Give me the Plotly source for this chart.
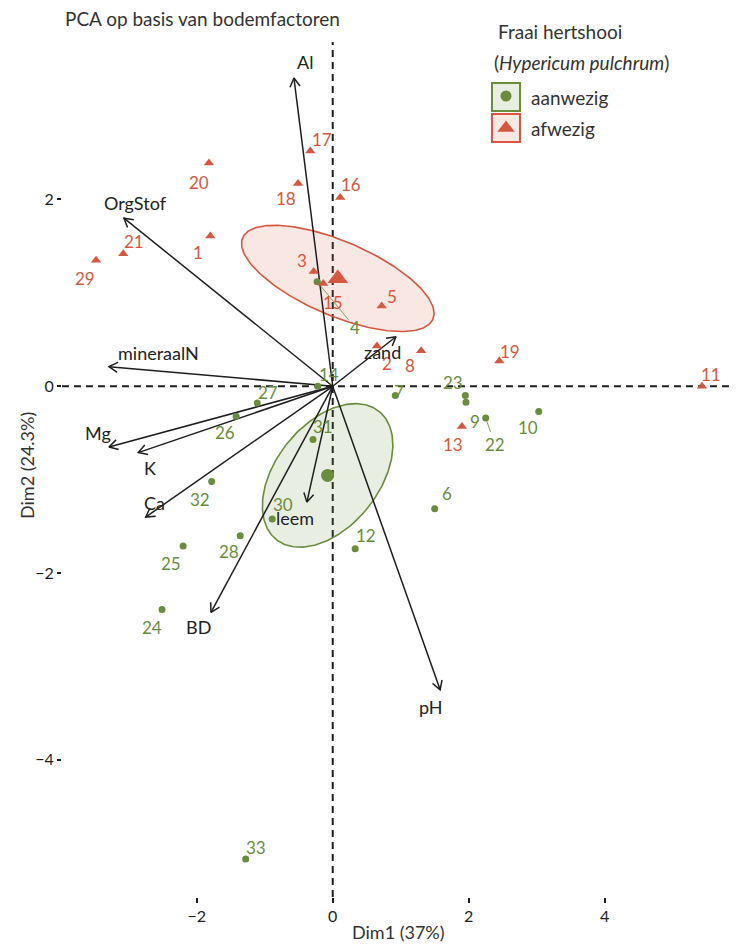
import numpy as np
import plotly.graph_objects as go

# ---------------- data ----------------
# individuals, group "afwezig" (absent)
ids_af = ["17", "20", "18", "16", "1", "21", "29", "3", "15", "5", "2", "8", "19", "11", "13"]
x_af = [-0.33, -1.82, -0.51, 0.11, -1.80, -3.08, -3.48, -0.28, -0.14, 0.72, 0.65, 1.30, 2.45, 5.43, 1.90]
y_af = [2.52, 2.39, 2.17, 2.02, 1.61, 1.42, 1.35, 1.23, 1.10, 0.86, 0.43, 0.38, 0.27, 0.00, -0.43]

# individuals, group "aanwezig" (present)
ids_aan = ["4", "6", "7", "9", "10", "12", "14", "22", "23", "24", "25", "26", "27", "28", "30", "31", "32", "33"]
x_aan = [-0.23, 1.50, 0.92, 1.96, 3.03, 0.33, -0.22, 2.25, 1.95, -2.51, -2.20, -1.42, -1.11, -1.36, -0.89, -0.29, -1.78, -1.28]
y_aan = [1.12, -1.31, -0.10, -0.17, -0.27, -1.74, 0.00, -0.34, -0.10, -2.39, -1.71, -0.32, -0.18, -1.60, -1.42, -0.57, -1.02, -5.06]

# variable loadings (arrows)
variables = ["Al", "OrgStof", "mineraalN", "Mg", "K", "Ca", "BD", "leem", "pH", "zand"]
var_x = [-0.57, -3.07, -3.29, -3.29, -2.86, -2.75, -1.79, -0.38, 1.58, 0.93]
var_y = [3.30, 1.80, 0.21, -0.65, -0.71, -1.40, -2.42, -1.24, -3.25, 0.53]

x_ticks = [-2, 0, 2, 4]
y_ticks = [-4, -2, 0, 2]

# ---------------- layout constants / styles ----------------
OFF = 8                      # page body margin
W, H = 737, 936              # figure size
PL, PR, PT, PB = 62, 734, 42, 897   # panel edges in page pixels
ML, MR, MT, MB = PL - OFF, OFF + W - PR, PT - OFF, OFF + H - PB
XR = [-3.981, 5.901]
YR = [-5.468, 3.686]
SX = (PR - PL) / (XR[1] - XR[0])   # px per unit
SY = (PB - PT) / (YR[1] - YR[0])

RED = "#d5573f"
GREEN = "#6a8c3f"
RED_FILL = "rgba(213,87,63,0.14)"
GREEN_FILL = "rgba(106,140,63,0.15)"
INK = "#1e1e1e"
TXT = "#333333"
FONT = "Lato"


def px2paper(px, py):
    return (px - PL) / (PR - PL), (PB - py) / (PB - PT)


# label offsets in pixels (dx right, dy down)
off_af = {"17": (12, -11), "20": (-10, 19), "18": (-12, 15), "16": (11, -13), "1": (-12, 17),
          "21": (11, -12), "29": (-11, 18), "3": (-12, -11), "15": (10, 19), "5": (10, -9),
          "2": (10, 17), "8": (-11, 15), "19": (11, -10), "11": (9, -12), "13": (-9, 18)}
off_aan = {"4": (38, 46), "6": (12, -15), "7": (4, -4), "9": (9, 19), "10": (-11, 16),
           "12": (11, -13), "14": (11, -12), "22": (9, 26), "23": (-12, -13), "24": (-10, 18),
           "25": (-12, 17), "26": (-11, 16), "27": (11, -11), "28": (-11, 16), "30": (11, -14),
           "31": (10, -13), "32": (-12, 18), "33": (10, -11)}
connectors = {"4", "22"}
off_var = {"Al": (11, -16), "OrgStof": (12, -15), "mineraalN": (50, -14), "Mg": (-11, -14),
           "K": (12, 15), "Ca": (9, -14), "BD": (-12, 15), "leem": (-12, 16), "pH": (-9, 17),
           "zand": (-13, 15)}


def conf_ellipse(x, y, level=0.95, n=240):
    xy = np.column_stack([x, y])
    mu = xy.mean(axis=0)
    cov = np.cov(xy.T) / len(x)
    k = np.sqrt(-2 * np.log(1 - level))
    vals, vecs = np.linalg.eigh(cov)
    t = np.linspace(0, 2 * np.pi, n)
    circ = np.stack([np.cos(t), np.sin(t)])
    pts = vecs @ (np.sqrt(vals)[:, None] * circ) * k
    return mu[0] + pts[0], mu[1] + pts[1]


fig = go.Figure()

# ellipses
for xs, ys, col, fill in [(x_af, y_af, RED, RED_FILL), (x_aan, y_aan, GREEN, GREEN_FILL)]:
    ex, ey = conf_ellipse(xs, ys)
    fig.add_trace(go.Scatter(x=ex, y=ey, mode="lines", fill="toself", fillcolor=fill,
                             line=dict(color=col, width=1.6), hoverinfo="skip", showlegend=False))

# arrows (lines + open chevron heads)
lx, ly, hx, hy = [], [], [], []
L = 10.0
ang = np.deg2rad(30)
for vx, vy in zip(var_x, var_y):
    lx += [0, vx, None]
    ly += [0, vy, None]
    ux, uy = vx * SX, -vy * SY
    nrm = np.hypot(ux, uy)
    bx, by = -ux / nrm, -uy / nrm
    for s in (1, -1):
        c, si = np.cos(s * ang), np.sin(s * ang)
        wx, wy = (bx * c - by * si) * L, (bx * si + by * c) * L
        if s == 1:
            hx += [vx + wx / SX, vx]
            hy += [vy - wy / SY, vy]
        else:
            hx += [vx + wx / SX, None]
            hy += [vy - wy / SY, None]
fig.add_trace(go.Scatter(x=lx, y=ly, mode="lines", line=dict(color=INK, width=1.5),
                         hoverinfo="skip", showlegend=False))
fig.add_trace(go.Scatter(x=hx, y=hy, mode="lines", line=dict(color=INK, width=1.5),
                         hoverinfo="skip", showlegend=False))

# points
fig.add_trace(go.Scatter(x=x_aan, y=y_aan, mode="markers", marker=dict(symbol="circle", size=7, color=GREEN),
                         text=ids_aan, showlegend=False))
fig.add_trace(go.Scatter(x=x_af, y=y_af, mode="markers", marker=dict(symbol="triangle-up", size=9, color=RED),
                         text=ids_af, showlegend=False))
# centroids
fig.add_trace(go.Scatter(x=[np.mean(x_aan)], y=[np.mean(y_aan)], mode="markers",
                         marker=dict(symbol="circle", size=13, color=GREEN), showlegend=False))
fig.add_trace(go.Scatter(x=[np.mean(x_af)], y=[np.mean(y_af)], mode="markers",
                         marker=dict(symbol="triangle-up", size=18, color=RED), showlegend=False))

ann = []
for ids, xs, ys, offs, col in [(ids_af, x_af, y_af, off_af, RED), (ids_aan, x_aan, y_aan, off_aan, GREEN)]:
    for i, xv, yv in zip(ids, xs, ys):
        dx, dy = offs[i]
        ann.append(dict(x=xv, y=yv, xref="x", yref="y", text=i, showarrow=True, ax=dx, ay=dy,
                        arrowhead=0, arrowwidth=0.8,
                        arrowcolor=col if i in connectors else "rgba(0,0,0,0)",
                        standoff=3, font=dict(family=FONT, size=17, color=col)))
for v, xv, yv in zip(variables, var_x, var_y):
    dx, dy = off_var[v]
    ann.append(dict(x=xv, y=yv, xref="x", yref="y", text=v, showarrow=True, ax=dx, ay=dy,
                    arrowcolor="rgba(0,0,0,0)", font=dict(family=FONT, size=18, color="#222")))

# legend (manual; keys drawn on an overlay axis measured in page pixels)
LEG_KEYS = [("aanwezig", GREEN, GREEN_FILL, "circle", 11, 97), ("afwezig", RED, RED_FILL, "triangle-up", 15, 128)]
shapes = [
    dict(type="line", xref="x", yref="y domain", x0=0, x1=0, y0=0, y1=1,
         line=dict(color=INK, width=2, dash="7px,5px"), layer="below"),
    dict(type="line", xref="x domain", yref="y", x0=0, x1=1, y0=0, y1=0,
         line=dict(color=INK, width=2, dash="7px,5px"), layer="below"),
]
for lab, col, fill, sym, sz, cy in LEG_KEYS:
    shapes.append(dict(type="rect", xref="x2", yref="y2", x0=492, x1=520, y0=cy - 14, y1=cy + 14,
                       fillcolor=fill, line=dict(color=col, width=2), layer="below"))
    fig.add_trace(go.Scatter(x=[506], y=[cy - (1 if sym == "circle" else 0)], xaxis="x2", yaxis="y2",
                             mode="markers", marker=dict(symbol=sym, size=sz, color=col),
                             hoverinfo="skip", showlegend=False))
    ax_, ay_ = px2paper(529, cy)
    ann.append(dict(x=ax_, y=ay_, xref="paper", yref="paper", text=lab, showarrow=False, xanchor="left",
                    yanchor="middle", font=dict(family=FONT, size=19, color=TXT)))
for txt, (px, py) in [("Fraai hertshooi", (496, 31)), ("(<i>Hypericum pulchrum</i>)", (492, 62))]:
    ax_, ay_ = px2paper(px, py)
    ann.append(dict(x=ax_, y=ay_, xref="paper", yref="paper", text=txt, showarrow=False,
                    xanchor="left", yanchor="middle", font=dict(family=FONT, size=19, color=TXT)))

# axis titles
ax_, ay_ = px2paper(398, 932)
ann.append(dict(x=ax_, y=ay_, xref="paper", yref="paper", text="Dim1 (37%)", showarrow=False,
                xanchor="center", yanchor="middle", font=dict(family=FONT, size=18, color=TXT)))
ax_, ay_ = px2paper(27, 466)
ann.append(dict(x=ax_, y=ay_, xref="paper", yref="paper", text="Dim2 (24.3%)", showarrow=False,
                textangle=-90, xanchor="center", yanchor="middle", font=dict(family=FONT, size=18, color=TXT)))

fig.update_layout(
    width=W, height=H,
    margin=dict(l=ML, r=MR, t=MT, b=MB),
    paper_bgcolor="white", plot_bgcolor="white",
    font=dict(family=FONT, color=TXT),
    title=dict(text="PCA op basis van bodemfactoren", x=(65 - OFF) / W, xanchor="left", xref="container",
               y=1 - (19 - OFF) / H, yanchor="middle", yref="container",
               font=dict(family=FONT, size=19, color=TXT)),
    xaxis=dict(range=XR, showgrid=False, zeroline=False, showline=False, tickvals=x_ticks,
               ticks="outside", ticklen=5, tickwidth=2, tickcolor=INK,
               tickfont=dict(family=FONT, size=16, color=INK), automargin=False),
    yaxis=dict(range=YR, showgrid=False, zeroline=False, showline=False, tickvals=y_ticks,
               ticks="outside", ticklen=4, tickwidth=1.5, tickcolor=INK,
               tickfont=dict(family=FONT, size=16, color=INK), automargin=False),
    xaxis2=dict(overlaying="x", range=[PL, PR], visible=False),
    yaxis2=dict(overlaying="y", range=[PB, PT], visible=False),
    shapes=shapes,
    annotations=ann,
)

fig.write_html("out.html")
